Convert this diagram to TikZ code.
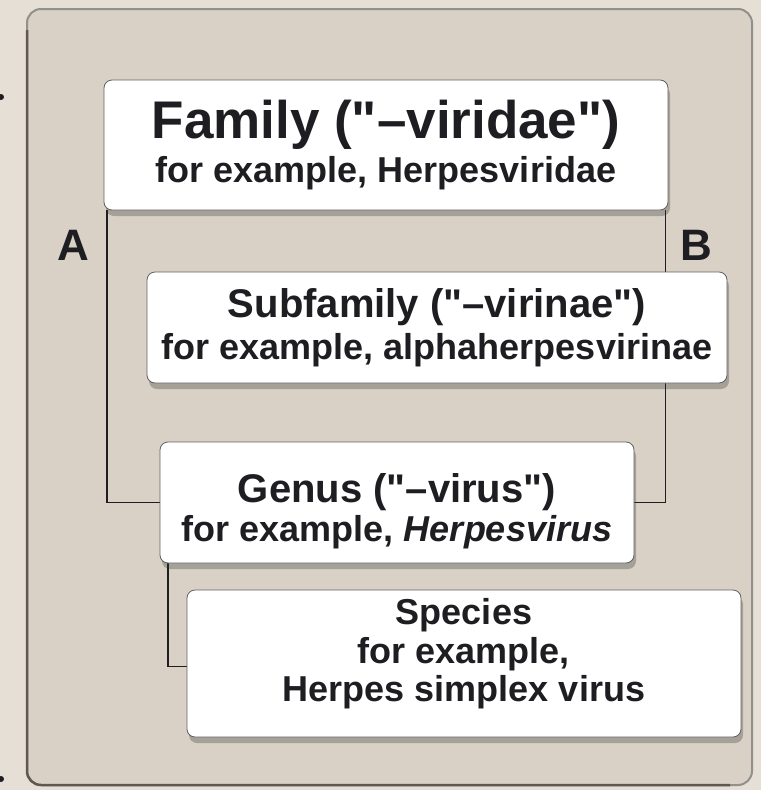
\documentclass[tikz,border=0pt]{standalone}
\usepackage{fontspec}
\setmainfont{Liberation Sans}[Ligatures=TeXOff]
\usetikzlibrary{shadows,backgrounds}
\definecolor{pagebg}{HTML}{E5DFD5}
\definecolor{panelbg}{HTML}{D9D1C5}
\definecolor{frame}{HTML}{5E5850}
\definecolor{ink}{HTML}{1E1E22}
\definecolor{slideblue}{HTML}{2A88D8}

\begin{document}
\begin{tikzpicture}[x=1pt, y=-1pt,
    taxon/.style={draw=gray!75!black, line width=0.8pt, fill=white, rounded corners=8pt,
        inner sep=0pt, align=center, text=ink, font=\bfseries,
        drop shadow={shadow xshift=2pt, shadow yshift=-6pt, opacity=0.3, fill=black!80}},
    link/.style={draw=ink, line width=1.8pt},
    rank/.style={text=ink, font=\fontsize{44}{44}\selectfont\bfseries}]

    % Taxon boxes
    \node[taxon, minimum width=564pt, minimum height=130pt] (family) at (386,145)
        {\fontsize{53}{56}\selectfont Family ("–viridae")\\[6pt]
         \fontsize{36}{41}\selectfont for example, Herpesviridae};
    \node[taxon, minimum width=580pt, minimum height=111pt] (subfamily) at (437,327.5)
        {\fontsize{40}{42}\selectfont Subfamily ("–virinae")\\[7pt]
         \fontsize{36}{40}\selectfont for example, alphaherpesvirinae};
    \node[taxon, minimum width=474pt, minimum height=121pt] (genus) at (397,502.5)
        {\fontsize{40}{42}\selectfont\rule{0pt}{46pt}Genus ("–virus")\\[4pt]
         \fontsize{36}{40}\selectfont for example, \textit{Herpesvirus}};
    \node[taxon, minimum width=554pt, minimum height=147pt,
          font=\bfseries\fontsize{36}{38.5}\selectfont] (species) at (464,663.5)
        {Species\\ for example,\\ \rule[-27pt]{0pt}{27pt}Herpes simplex virus};

    % Side labels
    \node[rank] (labelA) at (73,245) {A};
    \node[rank] (labelB) at (696,245) {B};

    % Slide margin marks
    \begin{scope}
        \clip (0,0) rectangle (761,790);
        \fill[ink] (1,97) circle (3pt);
        \fill[ink] (1,779) circle (3pt);
        \node[text=slideblue, font=\fontsize{45}{45}\selectfont\bfseries, anchor=base east] (slidenum) at (5,502) {5};
    \end{scope}

    \begin{scope}[on background layer]
        % Page and panel
        \fill[pagebg] (0,0) rectangle (761,790);
        \filldraw[fill=panelbg, draw=gray!80!panelbg, line width=2pt, rounded corners=14pt] (27,9) rectangle (752,785);
        \draw[frame, line width=2.5pt, rounded corners=14pt] (27,30) -- (27,785) -- (730,785);
        % Connectors
        \draw[link] ([xshift=3pt]family.south west) |- (genus.west);
        \draw[link] ([xshift=-3pt]family.south east) |- (genus.east);
        \draw[link] ([xshift=8pt]genus.south west) |- ([yshift=-3pt]species.west);
    \end{scope}
\end{tikzpicture}
\end{document}
